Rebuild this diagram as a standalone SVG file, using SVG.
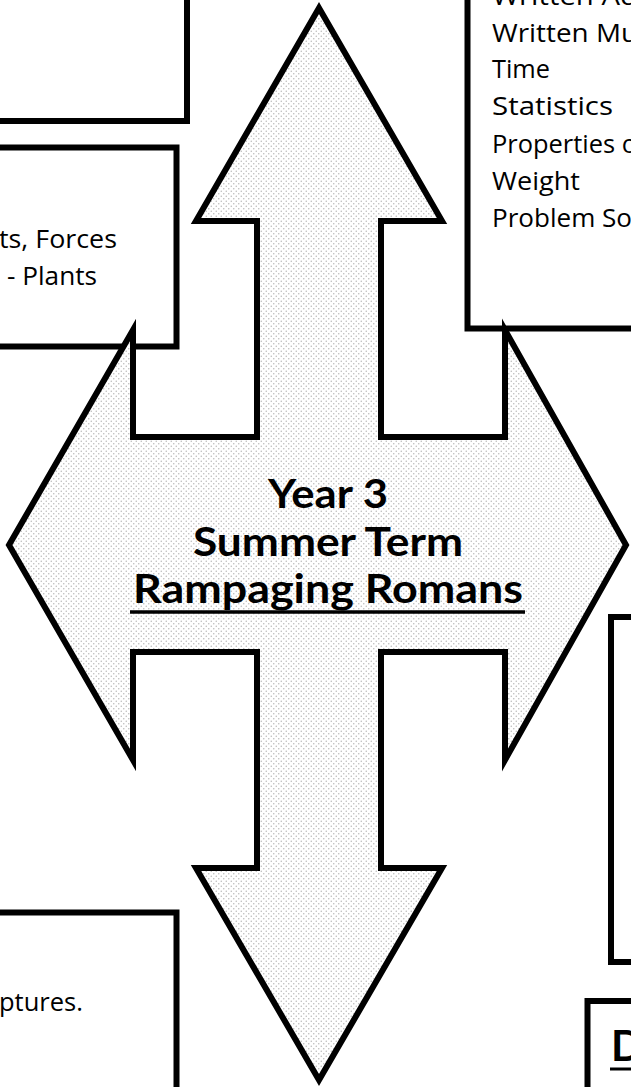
<svg xmlns="http://www.w3.org/2000/svg" width="631" height="1087" viewBox="0 0 631 1087">
  <defs>
    <pattern id="dots" width="5" height="5" patternUnits="userSpaceOnUse">
      <rect width="5" height="5" fill="#ffffff"/>
      <circle cx="1.25" cy="1.25" r="0.75" fill="#b8b8b8"/>
      <circle cx="3.75" cy="3.75" r="0.75" fill="#b8b8b8"/>
    </pattern>
  </defs>
  <style>
    .box { fill: #ffffff; stroke: #000000; stroke-width: 6; }
    .arrow { fill: url(#dots); stroke: #000000; stroke-width: 6; stroke-linejoin: miter; stroke-miterlimit: 4; }
    .body { font-family: "Open Sans", "Noto Sans", sans-serif; font-size: 26px; fill: #000000; }
    .title { font-family: "Lato", "Noto Sans", sans-serif; font-weight: bold; font-size: 40px; fill: #000000; text-anchor: middle; }
    .head { font-family: "Lato", "Noto Sans", sans-serif; font-weight: bold; font-size: 42px; fill: #000000; }
  </style>
  <rect width="631" height="1087" fill="#ffffff"/>

  <g id="box-top-left">
    <rect class="box" x="-10" y="-10" width="197" height="131"/>
  </g>

  <g id="box-science">
    <rect class="box" x="-10" y="147.5" width="186.5" height="199"/>
    <text class="body" x="-1" y="248" textLength="118" lengthAdjust="spacingAndGlyphs">ts, Forces</text>
    <text class="body" x="7" y="285" textLength="90" lengthAdjust="spacingAndGlyphs">- Plants</text>
  </g>

  <g id="box-maths">
    <rect class="box" x="467.5" y="-10" width="200" height="338.5"/>
    <text class="body" x="492" y="5" textLength="146" lengthAdjust="spacingAndGlyphs">Written Ad</text>
    <text class="body" x="492" y="42" textLength="146" lengthAdjust="spacingAndGlyphs">Written Mu</text>
    <text class="body" x="492" y="78" textLength="58" lengthAdjust="spacingAndGlyphs">Time</text>
    <text class="body" x="492" y="115" textLength="121" lengthAdjust="spacingAndGlyphs">Statistics</text>
    <text class="body" x="492" y="153" textLength="145" lengthAdjust="spacingAndGlyphs">Properties o</text>
    <text class="body" x="492" y="190" textLength="88" lengthAdjust="spacingAndGlyphs">Weight</text>
    <text class="body" x="492" y="227" textLength="140" lengthAdjust="spacingAndGlyphs">Problem So</text>
  </g>

  <g id="box-right-middle">
    <rect class="box" x="611" y="617" width="50" height="345"/>
  </g>

  <g id="box-bottom-left">
    <rect class="box" x="-10" y="912.5" width="186.5" height="200"/>
    <text class="body" x="-1" y="1011" textLength="84" lengthAdjust="spacingAndGlyphs">ptures.</text>
  </g>

  <g id="box-bottom-right">
    <rect class="box" x="587.5" y="1001" width="60" height="100"/>
    <text class="head" x="611" y="1061">D</text>
    <line x1="610" y1="1069" x2="640" y2="1069" stroke="#000000" stroke-width="3"/>
  </g>

  <g id="centre-arrow">
    <polygon class="arrow" points="319,8 442,221 381,221 381,437 505,437 505,330 626,545 505,760 505,652 381,652 381,868 442,868 319,1080 196,868 257,868 257,652 133,652 133,760 9,545 133,330 133,437 257,437 257,221 196,221"/>
    <text class="title" x="328" y="508" textLength="120" lengthAdjust="spacingAndGlyphs">Year 3</text>
    <text class="title" x="328" y="556" textLength="270" lengthAdjust="spacingAndGlyphs">Summer Term</text>
    <text class="title" x="328" y="603" textLength="390" lengthAdjust="spacingAndGlyphs">Rampaging Romans</text>
    <line x1="130" y1="612" x2="525" y2="612" stroke="#000000" stroke-width="3.5"/>
  </g>

  <g id="connectors"/>
</svg>
